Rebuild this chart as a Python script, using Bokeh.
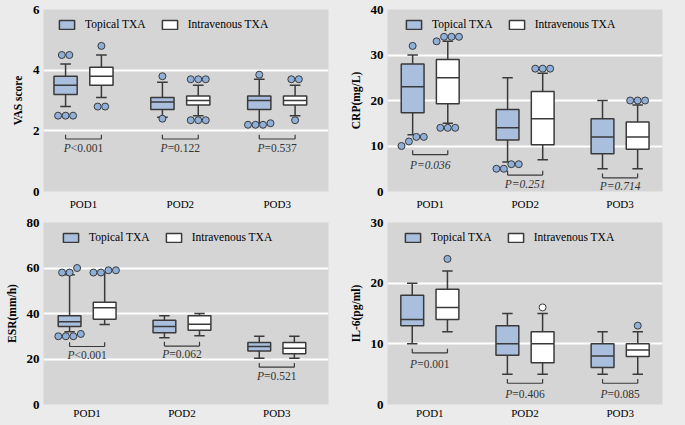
from bokeh.plotting import figure
from bokeh.layouts import gridplot
from bokeh.models import Range1d, FixedTicker, Legend, LegendItem, ColumnDataSource
from bokeh.core.properties import value
from bokeh.embed import file_html
from bokeh.resources import INLINE

# ---------------- data ----------------
categories = ["POD1", "POD2", "POD3"]
groups = ["Topical TXA", "Intravenous TXA"]

# VAS score
vas_top_q1 = [3.2, 2.7, 2.7]
vas_top_med = [3.5, 2.95, 3.0]
vas_top_q3 = [3.8, 3.1, 3.15]
vas_top_lo = [2.8, 2.45, 2.25]
vas_top_hi = [4.2, 3.6, 3.7]
vas_iv_q1 = [3.5, 2.85, 2.85]
vas_iv_med = [3.8, 3.0, 3.0]
vas_iv_q3 = [4.1, 3.15, 3.15]
vas_iv_lo = [3.1, 2.5, 2.5]
vas_iv_hi = [4.5, 3.5, 3.5]
vas_top_out = [[4.5, 4.5, 2.5, 2.5, 2.5], [3.8, 2.4], [3.85, 2.2, 2.25, 2.2, 2.2]]
vas_iv_out = [[4.8, 2.8, 2.8], [3.7, 3.7, 3.7, 2.35, 2.35, 2.35], [3.7, 3.7, 2.35]]
vas_p = ["<0.001", "=0.122", "=0.537"]

# CRP (mg/L)
crp_top_q1 = [17.3, 11.3, 8.3]
crp_top_med = [23, 14, 12]
crp_top_q3 = [28, 18, 16]
crp_top_lo = [12.5, 6.5, 5]
crp_top_hi = [30, 25, 20]
crp_iv_q1 = [19.3, 10.3, 9.3]
crp_iv_med = [25, 16, 12]
crp_iv_q3 = [29, 22, 15.3]
crp_iv_lo = [15, 7, 5]
crp_iv_hi = [33, 26, 19]
crp_top_out = [[32, 12, 12, 11, 10], [6, 6, 5, 5], []]
crp_iv_out = [[34, 34, 33, 34, 14, 14, 14], [27, 27, 27], [20, 20, 20]]
crp_p = ["=0.036", "=0.251", "=0.714"]

# ESR (mm/h)
esr_top_q1 = [34.3, 31.5, 23.5]
esr_top_med = [36.4, 34.3, 25.5]
esr_top_q3 = [39, 37, 27.2]
esr_top_lo = [32, 29.3, 20.3]
esr_top_hi = [57, 39, 30]
esr_iv_q1 = [37.5, 32.6, 22.3]
esr_iv_med = [42.5, 35.3, 24.7]
esr_iv_q3 = [45, 39, 27.2]
esr_iv_lo = [35.2, 30.2, 20.3]
esr_iv_hi = [58, 40, 30]
esr_top_out = [[60, 58, 58, 30, 31, 30, 30], [], []]
esr_iv_out = [[58, 59, 58, 59], [], []]
esr_p = ["<0.001", "=0.062", "=0.521"]

# IL-6 (pg/ml)
il6_top_q1 = [13, 8.1, 6.1]
il6_top_med = [14, 10, 8]
il6_top_q3 = [18, 13, 10]
il6_top_lo = [10, 5, 5]
il6_top_hi = [20, 15, 12]
il6_iv_q1 = [14, 6.9, 7.9]
il6_iv_med = [16, 10, 9]
il6_iv_q3 = [19, 12, 10]
il6_iv_lo = [12, 5, 5]
il6_iv_hi = [22, 15, 12]
il6_top_out = [[], [], []]
il6_iv_out = [[24], [16], [13]]
il6_iv_out_hollow = [[False], [True], [False]]
il6_p = ["=0.001", "=0.406", "=0.085"]

# ---------------- styling ----------------
PAGE_BG = "#ebebeb"
PLOT_BG = "#d5d5d5"
LINE = "#3a3a3a"
TOP_FILL = "#a9bfdd"
IV_FILL = "#ffffff"
OUT_FILL = "#8fb0da"
FONT = "Liberation Serif"

OFF = 0.185     # group dodge
BW = 0.24       # box width
CAP = 0.11      # whisker cap width
PFS = "11.5px"
PSPLIT = -12.7


def swarm(vals, px_per_unit, px_per_x):
    if not vals:
        return []
    order = sorted(range(len(vals)), key=lambda i: vals[i])
    clusters, cur = [], [order[0]]
    for i in order[1:]:
        if (vals[i] - vals[cur[-1]]) * px_per_unit < 7:
            cur.append(i)
        else:
            clusters.append(cur)
            cur = [i]
    clusters.append(cur)
    offs = [0.0] * len(vals)
    step = 7.5 / px_per_x
    for c in clusters:
        n = len(c)
        for k, i in enumerate(c):
            offs[i] = (k - (n - 1) / 2) * step
    return offs


def make_panel(ylabel, ymax, ystep, stats_top, stats_iv, out_top, out_iv, pvals,
               br_y, txt_y, width, height, bl, br, bt, bb, xr, legend_off,
               all_italic=False, hollow_iv=None, xstand=6):
    p = figure(width=width, height=height, output_backend="svg", toolbar_location=None,
               x_range=Range1d(*xr), y_range=Range1d(0, ymax),
               min_border_left=bl, min_border_right=br, min_border_top=bt,
               min_border_bottom=bb)
    p.background_fill_color = PLOT_BG
    p.border_fill_color = PAGE_BG
    p.outline_line_color = None
    p.xgrid.grid_line_color = None
    p.ygrid.grid_line_color = "white"
    p.ygrid.grid_line_width = 2
    p.yaxis.ticker = FixedTicker(ticks=list(range(0, ymax + 1, ystep)))
    p.xaxis.ticker = FixedTicker(ticks=[1, 2, 3])
    p.xaxis.major_label_overrides = {i + 1: c for i, c in enumerate(categories)}
    for ax in (p.xaxis[0], p.yaxis[0]):
        ax.axis_line_color = None
        ax.major_tick_line_color = None
        ax.minor_tick_line_color = None
        ax.major_tick_out = 0
        ax.major_tick_in = 0
        ax.major_label_text_font = FONT
        ax.major_label_text_color = "black"
    p.yaxis.major_label_text_font_style = "bold"
    p.yaxis.major_label_text_font_size = "13px"
    p.yaxis.major_label_standoff = 4
    p.yaxis.axis_label = ylabel
    p.yaxis.axis_label_text_font = FONT
    p.yaxis.axis_label_text_font_style = "bold"
    p.yaxis.axis_label_text_font_size = "11.5px"
    p.yaxis.axis_label_standoff = 6
    p.yaxis.axis_label_text_color = "black"
    p.xaxis.major_label_text_font_size = "11px"
    p.xaxis.major_label_standoff = xstand

    plot_h = height - bt - bb
    plot_w = width - bl - br
    px_per_unit = plot_h / ymax
    px_per_x = plot_w / (xr[1] - xr[0])

    renderers = []
    for gi, (st, fill, outs) in enumerate(((stats_top, TOP_FILL, out_top),
                                            (stats_iv, IV_FILL, out_iv))):
        q1, med, q3, lo, hi = st
        xs = [i + 1 + (-OFF if gi == 0 else OFF) for i in range(len(categories))]
        src = ColumnDataSource(dict(x=xs, q1=q1, med=med, q3=q3, lo=lo, hi=hi,
                                    xl=[x - BW / 2 for x in xs], xr=[x + BW / 2 for x in xs],
                                    cl=[x - CAP / 2 for x in xs], cr=[x + CAP / 2 for x in xs]))
        p.segment(x0="x", y0="q3", x1="x", y1="hi", source=src, line_color=LINE, line_width=1.5)
        p.segment(x0="x", y0="lo", x1="x", y1="q1", source=src, line_color=LINE, line_width=1.5)
        p.segment(x0="cl", y0="hi", x1="cr", y1="hi", source=src, line_color=LINE, line_width=1.5)
        p.segment(x0="cl", y0="lo", x1="cr", y1="lo", source=src, line_color=LINE, line_width=1.5)
        r = p.vbar(x="x", width=BW, top="q3", bottom="q1", source=src, fill_color=fill,
                   line_color=LINE, line_width=1.5)
        renderers.append(r)
        p.segment(x0="xl", y0="med", x1="xr", y1="med", source=src, line_color=LINE, line_width=1.5)
        ox, oy, of = [], [], []
        for ci, vals in enumerate(outs):
            offs = swarm(vals, px_per_unit, px_per_x)
            for k, v in enumerate(vals):
                ox.append(xs[ci] + offs[k])
                oy.append(v)
                hollow = (gi == 1 and hollow_iv is not None and hollow_iv[ci][k])
                of.append("white" if hollow else OUT_FILL)
        if ox:
            p.scatter(x=ox, y=oy, size=7, fill_color=of, line_color=LINE, line_width=1)

    # p-value brackets
    tick = 4.3 / px_per_unit
    bx0 = [i + 1 - OFF for i in range(3)]
    bx1 = [i + 1 + OFF for i in range(3)]
    p.segment(x0=bx0, y0=br_y, x1=bx1, y1=br_y, line_color=LINE, line_width=1.2)
    p.segment(x0=bx0, y0=br_y, x1=bx0, y1=[y + tick for y in br_y], line_color=LINE, line_width=1.2)
    p.segment(x0=bx1, y0=br_y, x1=bx1, y1=[y + tick for y in br_y], line_color=LINE, line_width=1.2)
    cx = [i + 1 for i in range(3)]
    if all_italic:
        p.text(x=cx, y=txt_y, text=["P" + s for s in pvals], text_font=value(FONT),
               text_font_style="italic", text_font_size=PFS, text_color="#333333",
               text_align="center", text_baseline="middle")
    else:
        p.text(x=cx, y=txt_y, text=["P"] * 3, text_font=value(FONT),
               text_font_style="italic", text_font_size=PFS, text_color="#333333",
               text_align="right", text_baseline="middle", x_offset=PSPLIT)
        p.text(x=cx, y=txt_y, text=pvals, text_font=value(FONT),
               text_font_size=PFS, text_color="#333333",
               text_align="left", text_baseline="middle", x_offset=PSPLIT)

    legend = Legend(items=[LegendItem(label=groups[0], renderers=[renderers[0]]),
                           LegendItem(label=groups[1], renderers=[renderers[1]])],
                    orientation="horizontal", location=(legend_off, plot_h - 8 - 13),
                    padding=0, margin=0, spacing=14, label_standoff=9,
                    glyph_width=19, glyph_height=11, label_height=11,
                    border_line_color=None, background_fill_alpha=0,
                    label_text_font=FONT, label_text_font_size="11.5px",
                    label_text_color="black")
    p.add_layout(legend)
    return p


p1 = make_panel("VAS score", 6, 2,
                (vas_top_q1, vas_top_med, vas_top_q3, vas_top_lo, vas_top_hi),
                (vas_iv_q1, vas_iv_med, vas_iv_q3, vas_iv_lo, vas_iv_hi),
                vas_top_out, vas_iv_out, vas_p,
                [1.73, 1.73, 1.73], [1.42, 1.42, 1.42],
                342, 213, 43, 14, 9, 22, (0.587, 3.53), 14)
p2 = make_panel("CRP(mg/L)", 40, 10,
                (crp_top_q1, crp_top_med, crp_top_q3, crp_top_lo, crp_top_hi),
                (crp_iv_q1, crp_iv_med, crp_iv_q3, crp_iv_lo, crp_iv_hi),
                crp_top_out, crp_iv_out, crp_p,
                [8.1, 3.6, 3.0], [5.9, 1.6, 1.3],
                343, 213, 43, 23, 9, 22, (0.55, 3.447), 17, all_italic=True)
p3 = make_panel("ESR(mm/h)", 80, 20,
                (esr_top_q1, esr_top_med, esr_top_q3, esr_top_lo, esr_top_hi),
                (esr_iv_q1, esr_iv_med, esr_iv_q3, esr_iv_lo, esr_iv_hi),
                esr_top_out, esr_iv_out, esr_p,
                [25.5, 25.7, 16.4], [21.9, 22.3, 12.6],
                342, 212, 43, 14, 9, 21, (0.54, 3.545), 18, xstand=2)
p4 = make_panel("IL-6(pg/ml)", 30, 10,
                (il6_top_q1, il6_top_med, il6_top_q3, il6_top_lo, il6_top_hi),
                (il6_iv_q1, il6_iv_med, il6_iv_q3, il6_iv_lo, il6_iv_hi),
                il6_top_out, il6_iv_out, il6_p,
                [8.5, 3.5, 3.5], [6.7, 1.8, 1.8],
                343, 212, 45, 23, 9, 21, (0.555, 3.445), 16,
                hollow_iv=il6_iv_out_hollow, xstand=2)

layout = gridplot([[p1, p2], [p3, p4]], toolbar_location=None)

tmpl = """
{% block postamble %}
<style>body { background: #ebebeb; }</style>
{% endblock %}
"""
open("out.html", "w").write(file_html(layout, INLINE, template=tmpl))
